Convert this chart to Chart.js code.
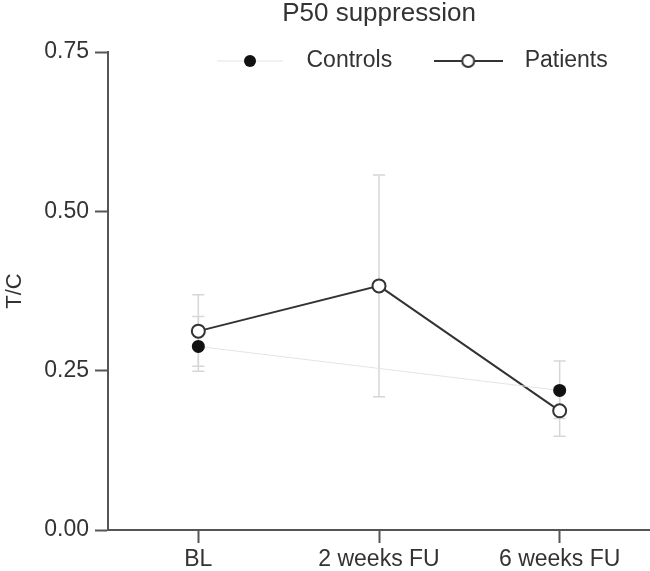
<!DOCTYPE html>
<html>
<head>
<meta charset="utf-8">
<script src="https://cdn.jsdelivr.net/npm/chart.js@4"></script>
<style>
  html, body { margin: 0; padding: 0; background: #fff; }
  #wrap { width: 650px; height: 571px; }
</style>
</head>
<body>
<div id="wrap"><canvas id="c" width="650" height="571"></canvas></div>
<script>
// ---- data ----
const categories = ['BL', '2 weeks FU', '6 weeks FU'];
const controlsMean = [0.288, null, 0.219];
const controlsLow  = [0.249, null, 0.175];
const controlsHigh = [0.335, null, 0.265];
const patientsMean = [0.312, 0.383, 0.187];
const patientsLow  = [0.257, 0.209, 0.147];
const patientsHigh = [0.369, 0.557, 0.225];
const yTicks = [0, 0.25, 0.5, 0.75];
const titleText = 'P50 suppression';
const yTitle = 'T/C';
const seriesNames = ['Controls', 'Patients'];

const FONT = "'Liberation Sans', Arial, Helvetica, sans-serif";
const TEXT = '#333333';
const AXIS = '#555555';
const ERR = '#d6d6d6';

function legendMarker(w, lineColor, lineWidth, fill, stroke, strokeW) {
  const cv = document.createElement('canvas');
  cv.width = w; cv.height = 18;
  const g = cv.getContext('2d');
  g.strokeStyle = lineColor; g.lineWidth = lineWidth;
  g.beginPath(); g.moveTo(0, 9); g.lineTo(w, 9); g.stroke();
  g.beginPath(); g.arc(w / 2, 9, 6, 0, Math.PI * 2);
  g.fillStyle = fill; g.fill();
  if (strokeW) { g.strokeStyle = stroke; g.lineWidth = strokeW; g.stroke(); }
  return cv;
}
const legendImgs = [
  legendMarker(66, '#e4e4e4', 1, '#111', '#111', 0),
  legendMarker(69, '#333', 2, '#fff', '#333', 2)
];

const errorBars = {
  id: 'errorBars',
  beforeDatasetsDraw(chart) {
    const {ctx, scales: {x, y}} = chart;
    const sets = [[controlsLow, controlsHigh], [patientsLow, patientsHigh]];
    ctx.save();
    ctx.strokeStyle = ERR;
    ctx.lineWidth = 1.5;
    sets.forEach(([lo, hi]) => {
      lo.forEach((l, i) => {
        const h = hi[i];
        if (l == null || h == null) return;
        const px = x.getPixelForValue(i);
        const y1 = y.getPixelForValue(l), y2 = y.getPixelForValue(h);
        ctx.beginPath();
        ctx.moveTo(px, y1); ctx.lineTo(px, y2);
        ctx.moveTo(px - 6, y1); ctx.lineTo(px + 6, y1);
        ctx.moveTo(px - 6, y2); ctx.lineTo(px + 6, y2);
        ctx.stroke();
      });
    });
    ctx.restore();
  }
};

// place the one-row legend inside the plot, as in the original figure
const placeLegend = {
  id: 'placeLegend',
  afterLayout(chart) {
    const lg = chart.legend;
    if (!lg) return;
    lg.left = 174; lg.right = 700;
    lg.top = 18.5; lg.bottom = 90;
  }
};

new Chart(document.getElementById('c'), {
  type: 'line',
  data: {
    labels: categories,
    datasets: [
      {
        label: seriesNames[0],
        data: controlsMean,
        spanGaps: true,
        borderColor: '#e4e4e4',
        borderWidth: 1,
        pointRadius: 6.5,
        pointBackgroundColor: '#111',
        pointBorderColor: '#111',
        pointBorderWidth: 0,
        tension: 0
      },
      {
        label: seriesNames[1],
        data: patientsMean,
        borderColor: '#333',
        borderWidth: 2,
        pointRadius: 6.5,
        pointBackgroundColor: '#fff',
        pointBorderColor: '#333',
        pointBorderWidth: 2,
        tension: 0
      }
    ]
  },
  options: {
    responsive: false,
    devicePixelRatio: 1,
    animation: false,
    layout: { padding: 0, autoPadding: false },
    plugins: {
      tooltip: { enabled: false },
      title: {
        display: true,
        text: titleText,
        fullSize: false,
        color: TEXT,
        font: { family: FONT, size: 26, weight: 'normal', lineHeight: 1 },
        padding: { top: 1, bottom: 24 }
      },
      legend: {
        position: 'top',
        fullSize: false,
        align: 'start',
        maxHeight: 1,
        labels: {
          color: TEXT,
          font: { family: FONT, size: 23 },
          usePointStyle: true,
          pointStyleWidth: 90,
          padding: 31,
          generateLabels(chart) {
            const items = Chart.defaults.plugins.legend.labels.generateLabels(chart);
            items.forEach((it, i) => { it.pointStyle = legendImgs[i]; });
            return items;
          }
        }
      }
    },
    scales: {
      x: {
        type: 'category',
        offset: true,
        grid: {
          drawOnChartArea: false,
          drawTicks: true,
          tickLength: 13,
          tickColor: AXIS,
          tickWidth: 2
        },
        border: { display: true, color: AXIS, width: 2 },
        ticks: {
          color: TEXT,
          font: { family: FONT, size: 23 },
          padding: 3,
          maxRotation: 0,
          autoSkip: false
        },
        afterFit(s) { s.height = 41; s.paddingLeft = 0; s.paddingRight = 0; }
      },
      y: {
        min: 0,
        max: 0.75,
        afterBuildTicks(s) { s.ticks = yTicks.map(v => ({ value: v })); },
        grid: {
          drawOnChartArea: false,
          drawTicks: true,
          tickLength: 13,
          tickColor: AXIS,
          tickWidth: 2
        },
        border: { display: true, color: AXIS, width: 2 },
        ticks: {
          color: TEXT,
          font: { family: FONT, size: 23 },
          padding: 6,
          callback: v => Number(v).toFixed(2)
        },
        title: {
          display: true,
          text: yTitle,
          color: TEXT,
          font: { family: FONT, size: 22 },
          padding: { top: 2, bottom: 0 }
        },
        afterFit(s) { s.width = 108; s.paddingTop = 0; s.paddingBottom = 0; }
      }
    }
  },
  plugins: [errorBars, placeLegend]
});
</script>
</body>
</html>
